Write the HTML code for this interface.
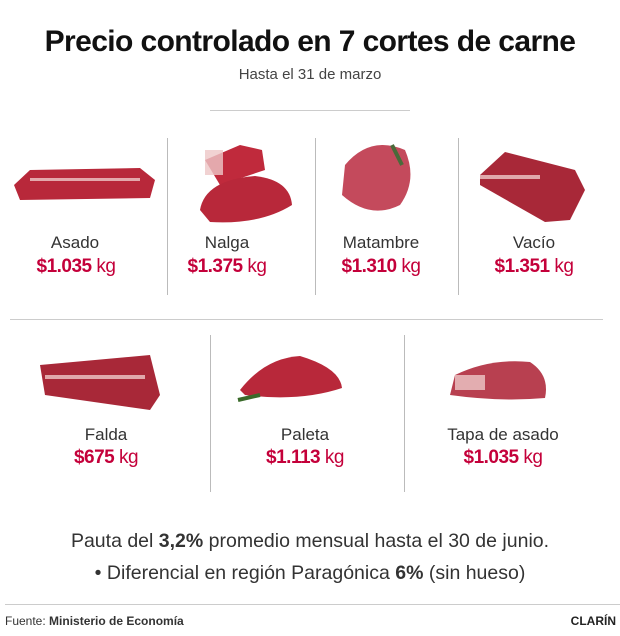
<!DOCTYPE html>
<html><head><meta charset="utf-8"><style>
body{margin:0;width:620px;height:636px;background:#fff;position:relative;font-family:"Liberation Sans",sans-serif;color:#222;overflow:hidden}
.a{position:absolute}
.c{transform:translateX(-50%);white-space:nowrap;text-align:center}
.nm{font-size:17px;color:#333}
.pr{font-size:19px;color:#c4003a;font-weight:bold;letter-spacing:-0.5px}
.pr span{font-weight:normal}
.vl{position:absolute;width:1px;background:#bbb}
</style></head><body>
<div class="a c" style="left:310px;top:25px;font-weight:bold;font-size:30px;color:#111;letter-spacing:-0.6px">Precio controlado en 7 cortes de carne</div>
<div class="a c" style="left:310px;top:66px;font-size:15px;color:#444">Hasta el 31 de marzo</div>
<div class="a" style="left:210px;top:110px;width:200px;height:1px;background:#ccc"></div>

<svg class="a" style="left:0;top:0" width="620" height="636">
<g fill="#b8283a">
<path d="M14 185 L30 170 L140 168 L155 180 L150 198 L20 200Z"/>
<path d="M205 160 L240 145 L262 150 L265 170 L220 185Z" fill="#c02a3c"/>
<path d="M200 210 Q205 180 255 176 Q290 180 292 205 Q260 225 210 222Z"/>
<path d="M345 165 Q370 135 405 150 Q418 180 400 205 Q370 220 342 195Z" fill="#c44a5c"/>
<path d="M480 175 L505 152 L575 170 L585 190 L570 220 L545 222 L480 185Z" fill="#a82838"/>
<path d="M40 365 L150 355 L160 395 L150 410 L45 395Z" fill="#a82838"/>
<path d="M240 390 Q265 358 300 356 Q340 368 342 388 Q300 402 245 395Z"/>
<path d="M455 375 Q490 358 530 362 Q550 375 545 398 Q500 402 450 395Z" fill="#b84050"/>
</g>
<g fill="#eec8c8" opacity="0.8">
<rect x="30" y="178" width="110" height="3"/><rect x="205" y="150" width="18" height="25"/><rect x="480" y="175" width="60" height="4"/><rect x="45" y="375" width="100" height="4"/><rect x="455" y="375" width="30" height="15"/>
</g>
<path d="M238 400 L260 395" stroke="#3a6a2a" stroke-width="4"/>
<path d="M392 145 L402 165" stroke="#4a6a3a" stroke-width="4"/>
</svg>

<div class="vl" style="left:167px;top:138px;height:157px"></div>
<div class="vl" style="left:315px;top:138px;height:157px"></div>
<div class="vl" style="left:458px;top:138px;height:157px"></div>

<div class="a c nm" style="left:75px;top:233px">Asado</div>
<div class="a c pr" style="left:76px;top:256px">$1.035 <span>kg</span></div>
<div class="a c nm" style="left:227px;top:233px">Nalga</div>
<div class="a c pr" style="left:227px;top:256px">$1.375 <span>kg</span></div>
<div class="a c nm" style="left:381px;top:233px">Matambre</div>
<div class="a c pr" style="left:381px;top:256px">$1.310 <span>kg</span></div>
<div class="a c nm" style="left:534px;top:233px">Vacío</div>
<div class="a c pr" style="left:534px;top:256px">$1.351 <span>kg</span></div>

<div class="a" style="left:10px;top:319px;width:593px;height:1px;background:#ccc"></div>

<div class="vl" style="left:210px;top:335px;height:157px"></div>
<div class="vl" style="left:404px;top:335px;height:157px"></div>

<div class="a c nm" style="left:106px;top:425px">Falda</div>
<div class="a c pr" style="left:106px;top:447px">$675 <span>kg</span></div>
<div class="a c nm" style="left:305px;top:425px">Paleta</div>
<div class="a c pr" style="left:305px;top:447px">$1.113 <span>kg</span></div>
<div class="a c nm" style="left:503px;top:425px">Tapa de asado</div>
<div class="a c pr" style="left:503px;top:447px">$1.035 <span>kg</span></div>

<div class="a c" style="left:310px;top:530px;font-size:19.5px;color:#333">Pauta del <b>3,2%</b> promedio mensual hasta el 30 de junio.</div>
<div class="a c" style="left:310px;top:562px;font-size:19.5px;color:#333">• Diferencial en región Paragónica <b>6%</b> (sin hueso)</div>

<div class="a" style="left:5px;top:604px;width:615px;height:1px;background:#ccc"></div>
<div class="a" style="left:5px;top:614px;font-size:12px;color:#333">Fuente: <b>Ministerio de Economía</b></div>
<div class="a" style="right:4px;top:614px;font-size:12px;font-weight:bold;color:#222">CLARÍN</div>
</body></html>
